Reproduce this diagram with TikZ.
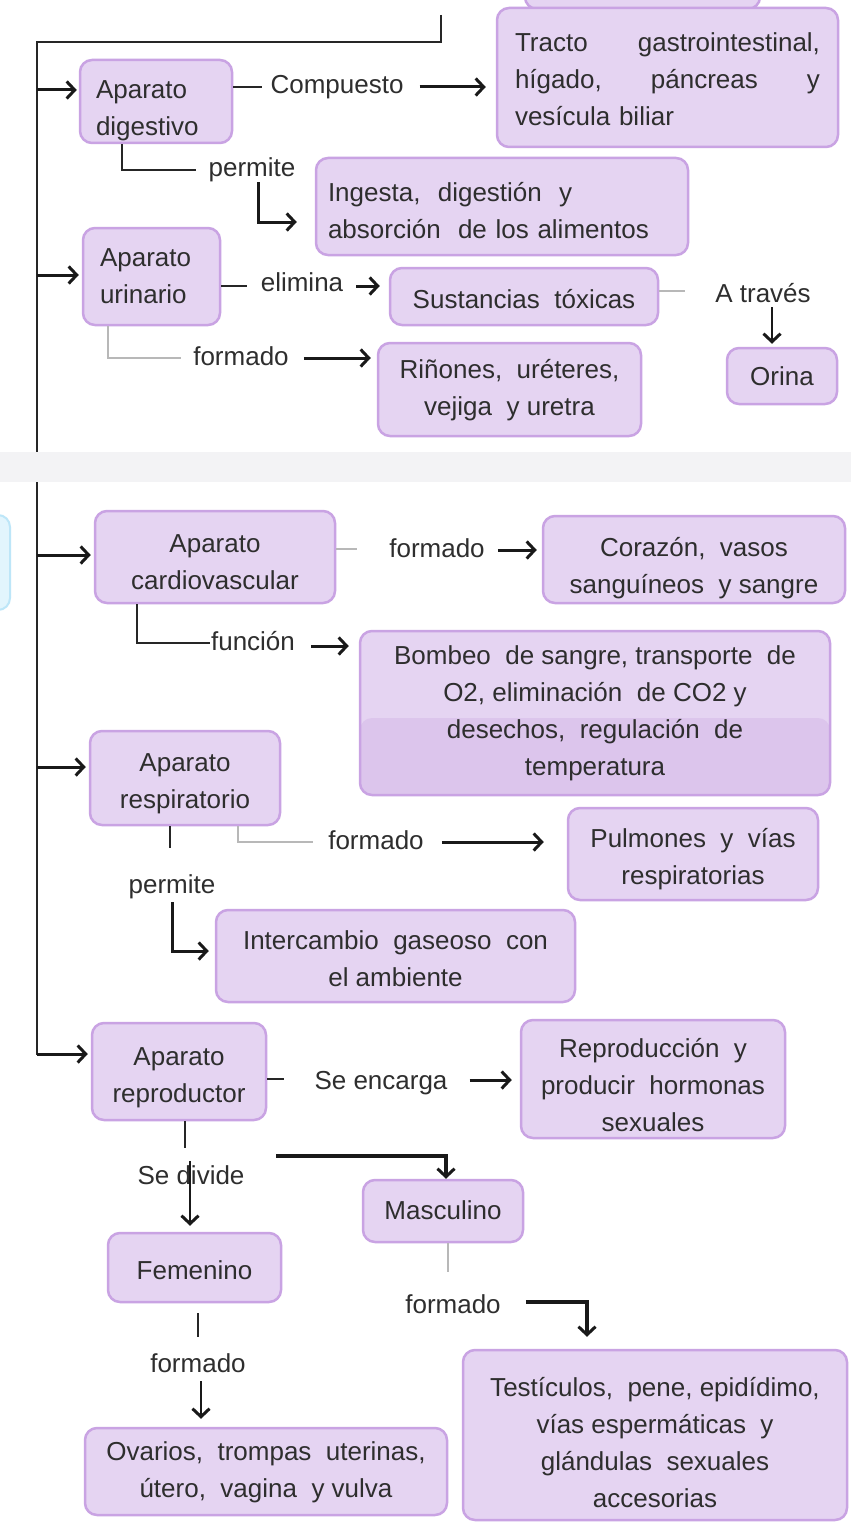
\documentclass[tikz,border=0pt]{standalone}
\usepackage{fontspec}
\setmainfont{Liberation Sans}
\usetikzlibrary{arrows.meta}
\definecolor{fillc}{HTML}{E5D4F2}
\definecolor{fillcc}{HTML}{DCC5EC}
\definecolor{bordc}{HTML}{C9A3E3}
\definecolor{grayl}{HTML}{B8B8B8}
\definecolor{bandc}{HTML}{F3F3F5}
\definecolor{cyanf}{HTML}{E2F5FD}
\definecolor{cyanb}{HTML}{BDE6F8}
\definecolor{txt}{HTML}{2E2E2E}
\begin{document}
\begin{tikzpicture}[x=1pt,y=-1pt,
  font=\fontsize{26}{37}\selectfont,
  box/.style 2 args={draw=bordc, fill=fillc, line width=2.5pt, rounded corners=12pt,
    inner sep=0pt, minimum width=#1pt, minimum height=#2pt},
  tx/.style={inner sep=0pt, align=center, text=txt},
  txl/.style={inner sep=0pt, align=left, text=txt, text width=#1pt},
  lab/.style={inner sep=0pt, text=txt, text height=19pt, text depth=5pt},
  ln/.style={line width=2pt, draw=black!85},
  gln/.style={line width=1.5pt, draw=grayl},
  arr/.style={line width=3pt, draw=black!90, -{Straight Barb[length=8pt,width=17pt,line width=3pt]}},
]
\useasboundingbox (0,0) rectangle (851,1525);
% background fragments
\fill[white] (0,0) rectangle (851,1525);
\draw[draw=cyanb, fill=cyanf, line width=2pt, rounded corners=12pt] (-30,515) rectangle (10,610);
\draw[draw=bordc, fill=fillc, line width=2.5pt, rounded corners=12pt] (525,-30) rectangle (760,9);

% main trunk
\coordinate (top) at (441,15);
\draw[ln] (top) |- (37,42) -- (37,1055);

% boxes
\node[box={152}{83}] (dig) at (156,101.5) {};
\node[txl=120] (dig-t) at (156,111) {Aparato\\digestivo};
\node[box={341}{139}] (tracto) at (667.5,77.5) {};
\node[txl=305] (tracto-t) at (667.5,79)
  {\makebox[305pt]{Tracto\hfill gastrointestinal,}\\\makebox[305pt]{hígado,\hfill páncreas\hfill y}\\vesícula biliar};
\node[box={372}{97}] (ing) at (502,206.5) {};
\node[txl=348] (ing-t) at (502,210.5) {Ingesta, \ digestión \ y\\absorción \ de los alimentos};
\node[box={137}{97}] (uri) at (151.5,276.5) {};
\node[txl=103] (uri-t) at (151.5,276.5) {Aparato\\urinario};
\node[box={268}{57}] (sust) at (524,296.5) {};
\node[tx] (sust-t) at (524,299) {Sustancias \ tóxicas};
\node[box={110}{56}] (orina) at (782,376) {};
\node[tx] (orina-t) at (782,376) {Orina};
\node[box={263}{93}] (rin) at (509.5,389.5) {};
\node[tx] (rin-t) at (509.5,390) {Riñones, \ uréteres,\\vejiga \ y uretra};
\node[box={240}{92}] (card) at (215,557) {};
\node[tx] (card-t) at (215,562) {Aparato\\cardiovascular};
\node[box={302}{87}] (cor) at (694,559.5) {};
\node[tx] (cor-t) at (694,568) {Corazón, \ vasos\\sanguíneos \ y sangre};
\node[box={470}{164},
  path picture={\fill[fillcc] (path picture bounding box.south west) rectangle ([yshift=-87pt]path picture bounding box.north east);}]
  (bomb) at (595,713) {};
\node[tx] (bomb-t) at (595,713) {Bombeo \ de sangre, transporte \ de\\O2, eliminación \ de CO2 y\\desechos, \ regulación \ de\\temperatura};
\node[box={190}{94}] (resp) at (185,778) {};
\node[tx] (resp-t) at (185,784) {Aparato\\respiratorio};
\node[box={250}{92}] (pulm) at (693,854) {};
\node[tx] (pulm-t) at (693,859) {Pulmones \ y \ vías\\respiratorias};
\node[box={359}{92}] (inter) at (395.5,956) {};
\node[tx] (inter-t) at (395.5,959) {Intercambio \ gaseoso \ con\\el ambiente};
\node[box={174}{97}] (repro) at (179,1071.5) {};
\node[tx] (repro-t) at (179,1078) {Aparato\\reproductor};
\node[box={264}{118}] (reprod) at (653,1079) {};
\node[tx] (reprod-t) at (653,1085) {Reproducción \ y\\producir \ hormonas\\sexuales};
\node[box={160}{62}] (masc) at (443,1211) {};
\node[tx] (masc-t) at (443,1210) {Masculino};
\node[box={173}{69}] (fem) at (194.5,1267.5) {};
\node[tx] (fem-t) at (194.5,1270) {Femenino};
\node[box={362}{87}] (ova) at (266,1471.5) {};
\node[tx] (ova-t) at (266,1472) {Ovarios, \ trompas \ uterinas,\\útero, \ vagina \ y vulva};
\node[box={384}{170}] (test) at (655,1435) {};
\node[tx] (test-t) at (655,1443) {Testículos, \ pene, epidídimo,\\vías espermáticas \ y\\glándulas \ sexuales\\accesorias};

% labels
\node[lab] (lcomp) at (337,87) {Compuesto};
\node[lab] (lperm1) at (252,170) {permite};
\node[lab] (lelim) at (302,284) {elimina};
\node[lab] (latr) at (763,295) {A través};
\node[lab] (lform1) at (241,358) {formado};
\node[lab] (lform2) at (437,550) {formado};
\node[lab] (lfunc) at (253,643) {función};
\node[lab] (lform3) at (376,842) {formado};
\node[lab] (lperm2) at (172,886) {permite};
\node[lab] (lenc) at (381,1082) {Se encarga};
\node[lab] (ldiv) at (191,1177) {Se divide};
\node[lab] (lform4) at (453,1306) {formado};
\node[lab] (lform5) at (198,1365) {formado};

% trunk arrows
\draw[arr, shorten >=2pt] (37,90) -- (dig.west |- 0,90);
\draw[arr, shorten >=3pt] (37,275) -- (uri.west |- 0,275);
\draw[arr, shorten >=3pt] (37,555) -- (card.west |- 0,555);
\draw[arr, shorten >=3pt] (37,767) -- (resp.west |- 0,767);
\draw[arr, shorten >=3pt] (37,1054) -- (repro.west |- 0,1054);

% digestivo
\draw[ln, shorten >=8pt] (dig.east |- 0,87) -- (lcomp.west);
\draw[arr, shorten <=16pt, shorten >=10pt] (lcomp.east) -- (tracto.west |- 0,87);
\draw[ln, shorten >=12pt] (dig.south -| 122,0) |- (lperm1.west);
\draw[arr, shorten >=18pt] ([xshift=6pt]lperm1.south) |- (ing.west |- 0,222);

% urinario
\draw[ln, shorten >=14pt] (uri.east |- 0,286) -- (lelim.west |- 0,286);
\draw[arr, shorten <=13pt, shorten >=9pt] (lelim.east |- 0,286) -- (sust.west |- 0,286);
\draw[gln, shorten >=30pt] (sust.east |- 0,291) -- (latr.west |- 0,291);
\draw[arr, line width=2.4pt, shorten >=3pt] ([xshift=9pt]latr.south) -- (orina.north -| 772,0);
\draw[gln, shorten >=12pt] (uri.south -| 108,0) |- (lform1.west);
\draw[arr, shorten <=15pt, shorten >=6pt] (lform1.east) -- (rin.west |- 0,358);

% cardiovascular
\draw[gln, shorten >=32pt] (card.east |- 0,549) -- (lform2.west |- 0,549);
\draw[arr, shorten <=13pt, shorten >=5pt] (lform2.east) -- (cor.west |- 0,550);
\draw[ln, shorten >=1pt] (card.south -| 137,0) |- (lfunc.west);
\draw[arr, shorten <=16pt, shorten >=10pt] (lfunc.east |- 0,646) -- (bomb.west |- 0,646);

% respiratorio
\draw[gln, shorten >=15pt] (resp.south -| 238,0) |- (lform3.west);
\draw[arr, shorten <=18pt, shorten >=23pt] (lform3.east) -- (pulm.west |- 0,842);
\draw[ln, shorten >=26pt] (resp.south -| 170,0) -- (lperm2.north -| 170,0);
\draw[arr, shorten <=4pt, shorten >=6pt] (lperm2.south -| 172,0) |- (inter.west |- 0,951);

% reproductor
\draw[ln, shorten >=30pt] (repro.east |- 0,1079) -- (lenc.west |- 0,1079);
\draw[arr, shorten <=22pt, shorten >=8pt] (lenc.east |- 0,1080) -- (reprod.west |- 0,1080);
\draw[ln, shorten >=17pt] (repro.south -| 185,0) -- (ldiv.north -| 185,0);
\draw[arr, line width=2.4pt, shorten <=-4pt, shorten >=6pt] (ldiv.north -| 190,0) -- (fem.north -| 190,0);
\coordinate (splitm) at (276,1156);
\draw[arr, line width=3.2pt] (splitm) -| (masc.north -| 446,0);
\draw[gln, shorten >=22pt] (masc.south -| 448,0) -- (lform4.north -| 448,0);
\draw[arr, line width=3.4pt, shorten <=25pt, shorten >=12pt] (lform4.east |- 0,1302) -| (test.north -| 587,0);
\draw[ln, shorten <=10pt, shorten >=16pt] (fem.south -| 198,0) -- (lform5.north -| 198,0);
\draw[arr, line width=2.4pt, shorten <=4pt, shorten >=8pt] (lform5.south -| 201,0) -- (ova.north -| 201,0);

% grey band overlay
\fill[bandc] (0,452) rectangle (851,482);
\end{tikzpicture}
\end{document}
